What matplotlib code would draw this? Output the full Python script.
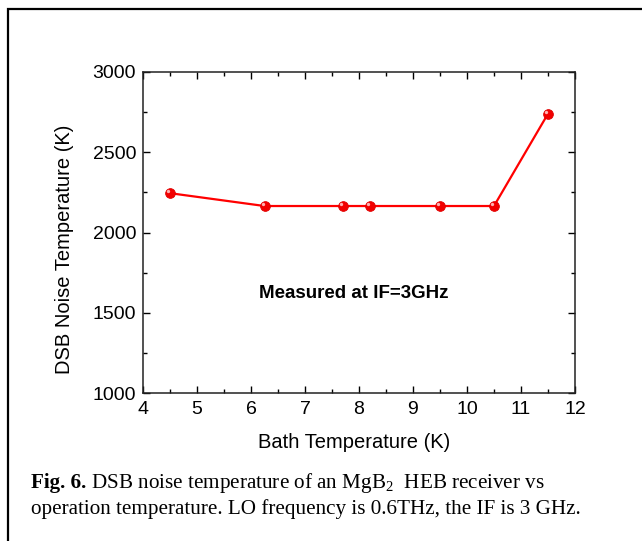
import matplotlib
matplotlib.use("Agg")
import matplotlib.pyplot as plt
from matplotlib.patches import Rectangle
from matplotlib.ticker import MultipleLocator
import matplotlib.transforms as mtransforms

bath_temp = [4.5, 6.25, 7.7, 8.2, 9.5, 10.5, 11.5]
noise_temp = [2245, 2165, 2165, 2165, 2165, 2165, 2740]
x_ticks = [4, 5, 6, 7, 8, 9, 10, 11, 12]
y_ticks = [1000, 1500, 2000, 2500, 3000]

plt.rcParams['font.family'] = ['Liberation Sans', 'DejaVu Sans']
plt.rcParams['mathtext.fontset'] = 'custom'
plt.rcParams['mathtext.rm'] = 'Liberation Serif'
plt.rcParams['mathtext.it'] = 'Liberation Serif:italic'
plt.rcParams['mathtext.bf'] = 'Liberation Serif:bold'

fig = plt.figure(figsize=(6.42, 5.41), dpi=100)
W, H = 642, 541

# border box
fig.patches.append(Rectangle((8 / W, -0.1), 2.0, 1 - 9 / H + 0.1, transform=fig.transFigure,
                             fill=False, edgecolor='black', linewidth=1.6))

ax = fig.add_axes([143 / W, 1 - 393 / H, (575 - 143) / W, (393 - 72) / H])
ax.plot(bath_temp, noise_temp, color='#ff0000', linewidth=1.6, marker='o', markersize=7,
        markerfacecolor='#f20000', markeredgecolor='#e00000', markeredgewidth=0.6, zorder=3)
hl = mtransforms.offset_copy(ax.transData, fig=fig, x=-1.1, y=1.4, units='points')
ax.plot(bath_temp, noise_temp, linestyle='none', marker='o', markersize=2.4,
        markerfacecolor='#ffb0b0', markeredgewidth=0, transform=hl, zorder=4)

ax.set_xlim(4, 12)
ax.set_ylim(1000, 3000)
ax.set_xticks(x_ticks)
ax.set_yticks(y_ticks)
ax.xaxis.set_minor_locator(MultipleLocator(0.5))
ax.yaxis.set_minor_locator(MultipleLocator(250))
ax.tick_params(which='both', direction='in', top=True, right=True, labelsize=14, colors='black')
ax.tick_params(which='major', length=5, width=1)
ax.tick_params(axis='x', which='major', pad=6)
ax.tick_params(axis='y', which='major', pad=5)
ax.tick_params(which='minor', length=3, width=1)
for s in ax.spines.values():
    s.set_linewidth(1.1)
    s.set_color('#222222')

ax.set_xlabel('Bath Temperature (K)', fontsize=14.5, va='center')
ax.xaxis.set_label_coords((354 - 143) / 432, -(442 - 393) / 321)
ax.set_ylabel('DSB Noise Temperature (K)', fontsize=14.5, va='center')
ax.yaxis.set_label_coords((65 - 143) / 432, (393 - 249) / 321)

ax.text((353.5 - 143) / 432, (393 - 293) / 321, 'Measured at IF=3GHz', transform=ax.transAxes,
        fontsize=13.5, fontweight='bold', ha='center', va='center')

cap_kw = dict(fontsize=15.2, va='baseline', ha='left', family=['Liberation Serif', 'DejaVu Serif'])
t1 = fig.text(31 / W, 1 - 488 / H, 'Fig. 6.', fontweight='bold', **cap_kw)
fig.canvas.draw()
bb = t1.get_window_extent()
fig.text(bb.x1 / W, 1 - 488 / H, ' DSB noise temperature of an MgB$_\\mathrm{2}$  HEB receiver vs', **cap_kw)
fig.text(31 / W, 1 - 514 / H, 'operation temperature. LO frequency is 0.6THz, the IF is 3 GHz.', **cap_kw)

fig.savefig('out.png', dpi=100)
